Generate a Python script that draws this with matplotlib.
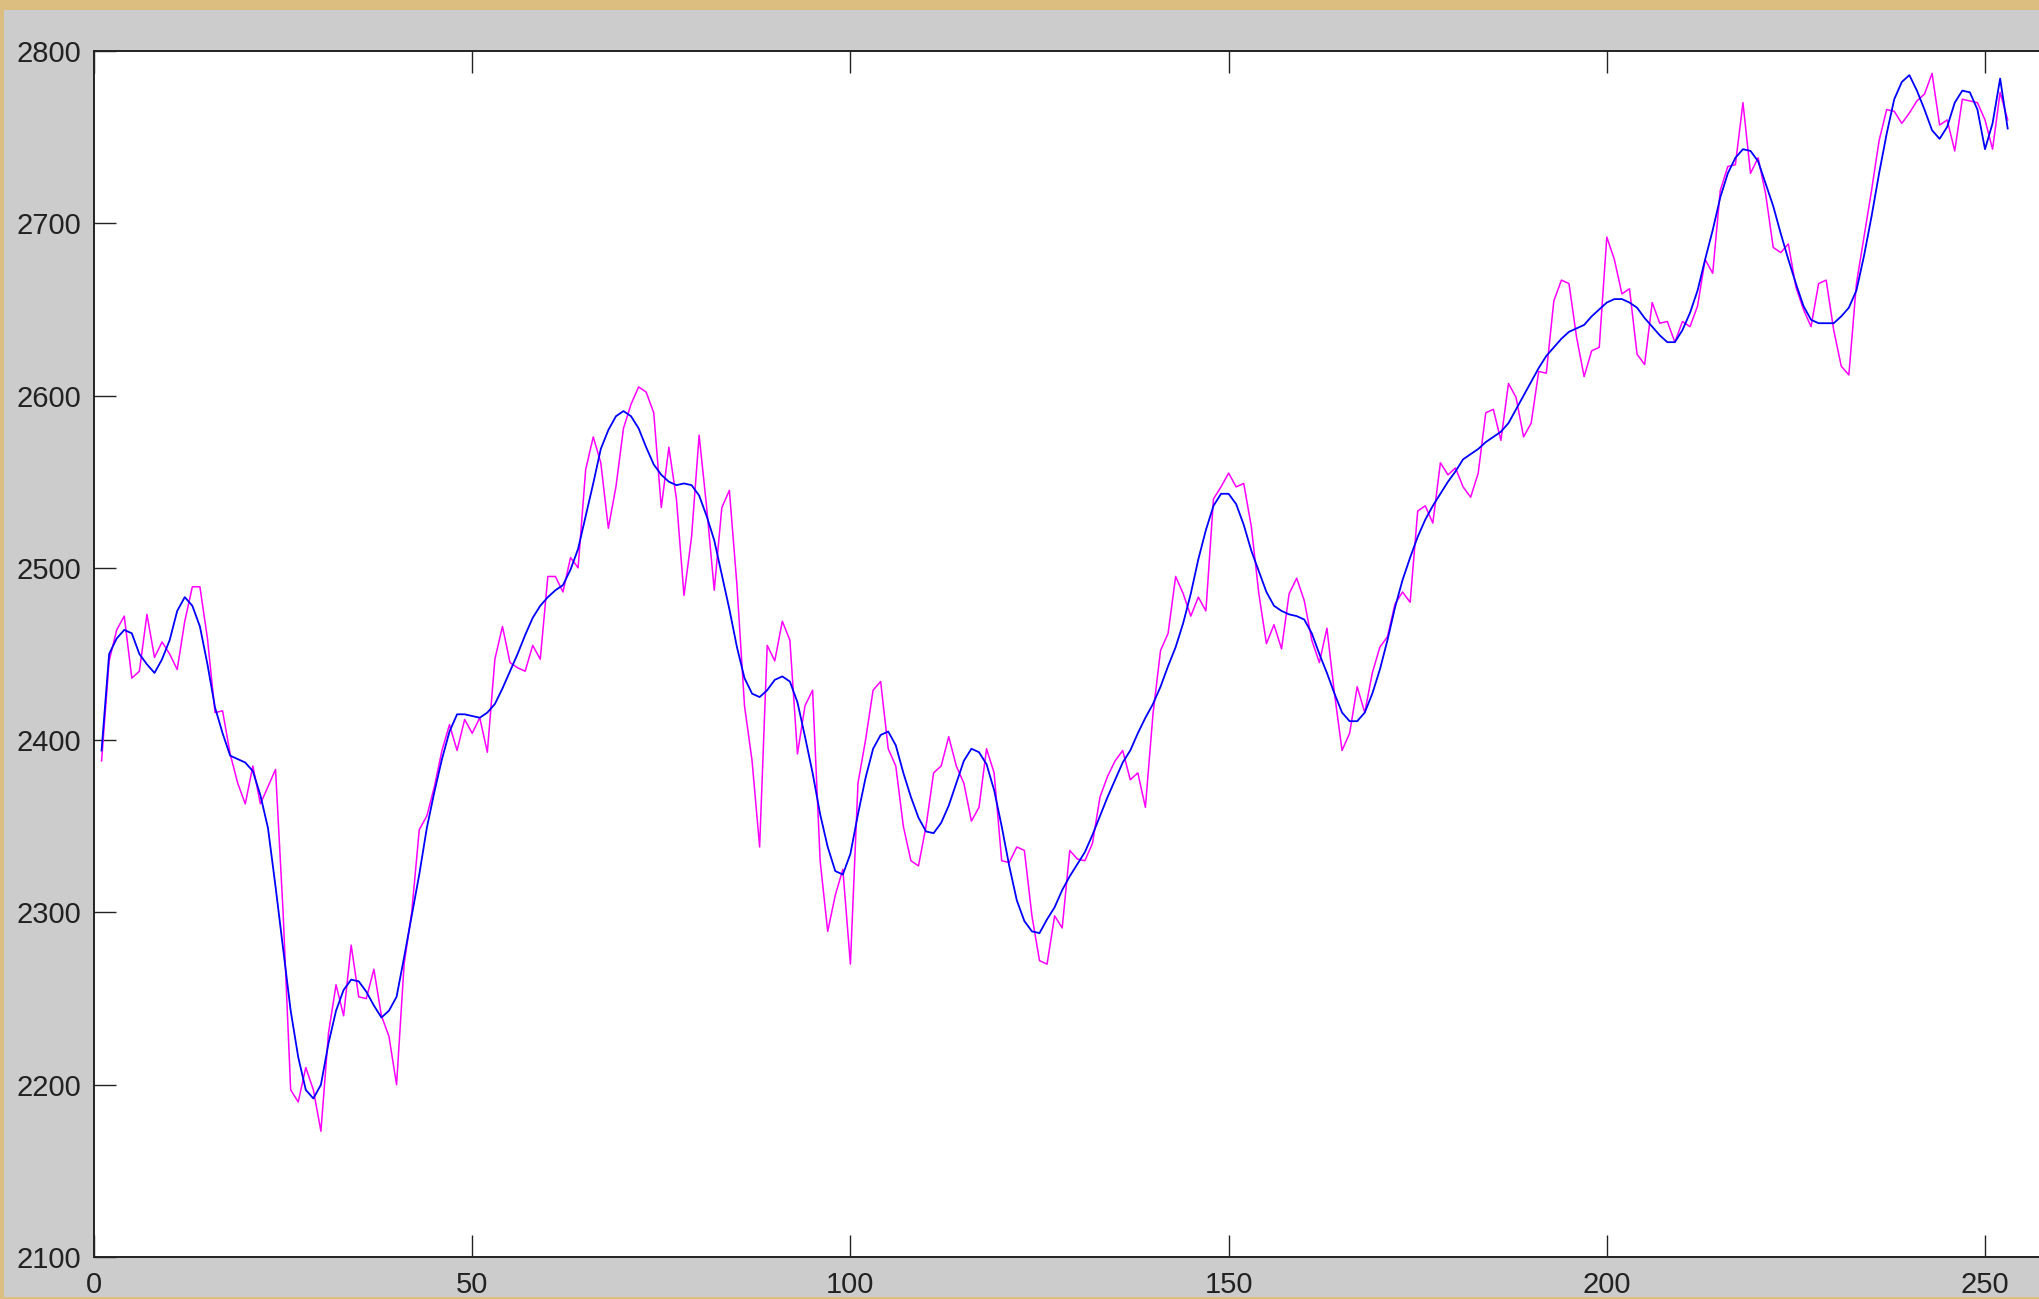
import numpy as np
import matplotlib
matplotlib.use("Agg")
import matplotlib.pyplot as plt
from matplotlib.patches import Rectangle

# raw (noisy) series, x = 1..253
raw = [
    2388, 2446, 2464, 2472, 2436, 2440, 2473, 2448, 2457, 2450,
    2441, 2469, 2489, 2489, 2459, 2416, 2417, 2392, 2375, 2363,
    2385, 2363, 2373, 2383, 2300, 2197, 2190, 2210, 2197, 2173,
    2230, 2258, 2240, 2281, 2251, 2250, 2267, 2240, 2228, 2200,
    2270, 2300, 2348, 2356, 2373, 2394, 2409, 2394, 2412, 2404,
    2413, 2393, 2447, 2466, 2445, 2442, 2440, 2455, 2447, 2495,
    2495, 2486, 2506, 2500, 2557, 2576, 2561, 2523, 2547, 2581,
    2595, 2605, 2602, 2590, 2535, 2570, 2540, 2484, 2518, 2577,
    2535, 2487, 2535, 2545, 2490, 2420, 2388, 2338, 2455, 2446,
    2469, 2458, 2392, 2420, 2429, 2330, 2289, 2310, 2325, 2270,
    2375, 2400, 2429, 2434, 2395, 2385, 2350, 2330, 2327, 2350,
    2381, 2385, 2402, 2385, 2375, 2353, 2361, 2395, 2381, 2330,
    2329, 2338, 2336, 2298, 2272, 2270, 2298, 2291, 2336, 2331,
    2330, 2340, 2367, 2379, 2388, 2394, 2377, 2381, 2361, 2415,
    2452, 2462, 2495, 2485, 2472, 2483, 2475, 2540, 2547, 2555,
    2547, 2549, 2524, 2485, 2456, 2467, 2453, 2485, 2494, 2481,
    2458, 2445, 2465, 2427, 2394, 2404, 2431, 2416, 2439, 2454,
    2460, 2479, 2486, 2480, 2533, 2536, 2526, 2561, 2554, 2558,
    2547, 2541, 2555, 2590, 2592, 2574, 2607, 2599, 2576, 2584,
    2614, 2613, 2655, 2667, 2665, 2634, 2611, 2626, 2628, 2692,
    2679, 2659, 2662, 2624, 2618, 2654, 2642, 2643, 2631, 2643,
    2640, 2652, 2679, 2671, 2719, 2733, 2734, 2770, 2729, 2738,
    2717, 2686, 2683, 2688, 2663, 2650, 2640, 2665, 2667, 2638,
    2617, 2612, 2665, 2692, 2719, 2748, 2766, 2765, 2758, 2764,
    2771, 2775, 2787, 2757, 2760, 2742, 2772, 2771, 2770, 2760,
    2743, 2776, 2760,
]

# smoothed series
smooth = [
    2394, 2450, 2459, 2464, 2462, 2450, 2444, 2439, 2447, 2458,
    2475, 2483, 2478, 2466, 2444, 2419, 2404, 2391, 2389, 2387,
    2382, 2368, 2349, 2315, 2279, 2243, 2216, 2197, 2192, 2200,
    2224, 2243, 2255, 2261, 2260, 2254, 2246, 2239, 2243, 2251,
    2274, 2298, 2322, 2349, 2370, 2389, 2405, 2415, 2415, 2414,
    2413, 2416, 2421, 2430, 2440, 2450, 2461, 2471, 2478, 2483,
    2487, 2490, 2499, 2511, 2530, 2549, 2569, 2580, 2588, 2591,
    2588, 2581, 2570, 2560, 2554, 2550, 2548, 2549, 2548, 2542,
    2530, 2516, 2496, 2476, 2454, 2436, 2427, 2425, 2429, 2435,
    2437, 2434, 2422, 2402, 2381, 2357, 2338, 2324, 2322, 2334,
    2357, 2378, 2395, 2403, 2405, 2397, 2381, 2367, 2355, 2347,
    2346, 2352, 2362, 2375, 2388, 2395, 2393, 2386, 2371, 2350,
    2327, 2307, 2295, 2289, 2288, 2296, 2303, 2313, 2321, 2328,
    2335, 2345, 2356, 2367, 2377, 2387, 2394, 2404, 2413, 2421,
    2431, 2443, 2454, 2468, 2485, 2505, 2522, 2536, 2543, 2543,
    2537, 2525, 2510, 2498, 2486, 2478, 2475, 2473, 2472, 2470,
    2462, 2450, 2439, 2427, 2416, 2411, 2411, 2416, 2427, 2441,
    2458, 2477, 2493, 2506, 2518, 2528, 2536, 2543, 2550, 2556,
    2563, 2566, 2569, 2573, 2576, 2579, 2584, 2592, 2600, 2608,
    2616, 2623, 2628, 2633, 2637, 2639, 2641, 2646, 2650, 2654,
    2656, 2656, 2654, 2651, 2645, 2640, 2635, 2631, 2631, 2638,
    2648, 2661, 2679, 2696, 2715, 2729, 2738, 2743, 2742, 2736,
    2723, 2710, 2694, 2679, 2665, 2652, 2644, 2642, 2642, 2642,
    2646, 2651, 2661, 2681, 2704, 2729, 2752, 2772, 2782, 2786,
    2777, 2766, 2754, 2749, 2756, 2770, 2777, 2776, 2766, 2743,
    2758, 2784, 2755,
]

xticks = [0, 50, 100, 150, 200, 250]
yticks = [2100, 2200, 2300, 2400, 2500, 2600, 2700, 2800]

W, H = 2039, 1299
x = np.arange(1, len(raw) + 1)

fig = plt.figure(figsize=(W / 100, H / 100), dpi=100, facecolor="#dcbf80")
# grey window body inside the gold frame
fig.add_artist(Rectangle((4 / W, 2 / H), 1, (H - 12) / H, transform=fig.transFigure,
                         facecolor="#cccccc", edgecolor="none", zorder=0))

ax = fig.add_axes([94 / W, 42 / H, (W - 94) / W, 1206 / H])
ax.set_facecolor("white")
ax.plot(x, raw, color="#ff00ff", lw=1.1)
ax.plot(x, smooth, color="#0000ff", lw=1.3)

ax.set_xlim(0, (W - 94) / 7.564)
ax.set_ylim(2100, 2800)
ax.set_xticks(xticks)
ax.set_yticks(yticks)
ax.spines["right"].set_visible(False)
for s in ["left", "top", "bottom"]:
    ax.spines[s].set_linewidth(1.4)
    ax.spines[s].set_color("#222222")
ax.tick_params(direction="in", top=True, right=False, length=16, width=1.0,
               color="#222222", labelsize=21, labelcolor="#222222")
ax.tick_params(axis="y", pad=9)
ax.tick_params(axis="x", pad=10)
for lab in ax.get_xticklabels() + ax.get_yticklabels():
    lab.set_family("Liberation Sans")

fig.savefig("out.png", dpi=100, facecolor=fig.get_facecolor())
